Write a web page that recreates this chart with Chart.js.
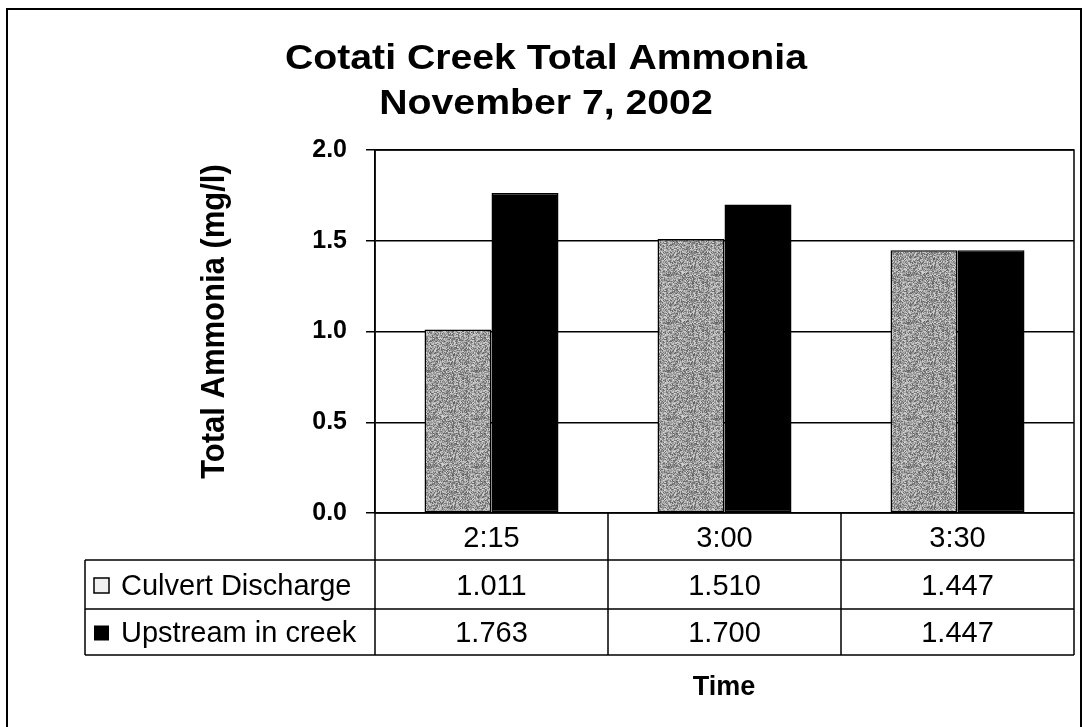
<!DOCTYPE html>
<html>
<head>
<meta charset="utf-8">
<script src="https://cdn.jsdelivr.net/npm/chart.js@4.4.1/dist/chart.umd.min.js"></script>
<style>
  html, body { margin: 0; padding: 0; background: #fff; }
  #wrap { width: 1085px; height: 727px; }
</style>
</head>
<body>
<div id="wrap"><canvas id="ammoniaChart" width="1085" height="727"></canvas></div>
<script>
// chart data
const times = ['2:15', '3:00', '3:30'];
const seriesNames = ['Culvert Discharge', 'Upstream in creek'];
const culvertValues = [1.011, 1.510, 1.447];
const upstreamValues = [1.763, 1.700, 1.447];
const yTicks = [0.0, 0.5, 1.0, 1.5, 2.0];

const titleLines = ['Cotati Creek Total Ammonia', 'November 7, 2002'];
const yTitle = 'Total Ammonia (mg/l)';
const xTitle = 'Time';

const FONT = "'Liberation Sans', Arial, sans-serif";

// speckled grey fill like the scanned bars (fixed hash, not data)
function speckle() {
  const c = document.createElement('canvas');
  c.width = 48; c.height = 48;
  const g = c.getContext('2d');
  const img = g.createImageData(48, 48);
  for (let y = 0; y < 48; y++) {
    for (let x = 0; x < 48; x++) {
      let h = (x * 374761393 + y * 668265263) | 0;
      h = Math.imul(h ^ (h >>> 13), 1274126177);
      h = (h ^ (h >>> 16)) >>> 0;
      const v = 95 + (h % 120);
      const i = (y * 48 + x) * 4;
      img.data[i] = v; img.data[i + 1] = v; img.data[i + 2] = v; img.data[i + 3] = 255;
    }
  }
  g.putImageData(img, 0, 0);
  return g.createPattern(c, 'repeat');
}

function stretchedText(ctx, text, x, y, font, align, sx) {
  ctx.save();
  ctx.font = font;
  ctx.fillStyle = '#000';
  ctx.textBaseline = 'alphabetic';
  ctx.textAlign = align || 'center';
  ctx.translate(x, y);
  ctx.scale(sx || 1, 1);
  ctx.fillText(text, 0, 0);
  ctx.restore();
}

// draws the frame, titles and the data table under the plot
const decorPlugin = {
  id: 'decor',
  beforeDraw(chart) {
    const ctx = chart.ctx;
    ctx.save();
    ctx.fillStyle = '#fff';
    ctx.fillRect(0, 0, chart.width, chart.height);
    ctx.restore();
  },
  afterDraw(chart) {
    const ctx = chart.ctx;
    const area = chart.chartArea;
    const x = chart.scales.x;

    ctx.save();
    ctx.strokeStyle = '#000';

    // outer frame
    ctx.lineWidth = 2;
    ctx.beginPath();
    ctx.moveTo(7, 727);
    ctx.lineTo(7, 9);
    ctx.lineTo(1081, 9);
    ctx.lineTo(1081, 727);
    ctx.stroke();

    // plot border
    ctx.lineWidth = 1.5;
    ctx.strokeRect(area.left, area.top, area.right - area.left, area.bottom - area.top);

    // data table
    const catW = (area.right - area.left) / times.length;
    const rowTop = area.bottom;
    const row1 = 560, row2 = 609, row3 = 655;
    const tableLeft = 85;

    ctx.lineWidth = 1.5;
    ctx.beginPath();
    ctx.moveTo(tableLeft, row1); ctx.lineTo(area.right, row1);
    ctx.moveTo(tableLeft, row2); ctx.lineTo(area.right, row2);
    ctx.moveTo(tableLeft, row3); ctx.lineTo(area.right, row3);
    ctx.moveTo(tableLeft, row1); ctx.lineTo(tableLeft, row3);
    for (let i = 0; i <= times.length; i++) {
      const px = area.left + catW * i;
      ctx.moveTo(px, rowTop); ctx.lineTo(px, row3);
    }
    ctx.stroke();

    const cellFont = '29px ' + FONT;
    times.forEach((t, i) => {
      const cx = x.getPixelForValue(i);
      stretchedText(ctx, t, cx, (rowTop + row1) / 2 + 10, cellFont);
      stretchedText(ctx, culvertValues[i].toFixed(3), cx, (row1 + row2) / 2 + 10, cellFont);
      stretchedText(ctx, upstreamValues[i].toFixed(3), cx, (row2 + row3) / 2 + 10, cellFont);
    });

    // row labels with legend keys
    const keySize = 15;
    const k1y = (row1 + row2) / 2 - keySize / 2 + 1;
    const k2y = (row2 + row3) / 2 - keySize / 2 + 1;
    ctx.lineWidth = 1.5;
    ctx.fillStyle = '#f0f0f0';
    ctx.fillRect(94, k1y, keySize, keySize);
    ctx.strokeRect(94, k1y, keySize, keySize);
    ctx.fillStyle = '#000';
    ctx.fillRect(94, k2y, keySize, keySize);
    stretchedText(ctx, seriesNames[0], 121, (row1 + row2) / 2 + 10, cellFont, 'left');
    stretchedText(ctx, seriesNames[1], 121, (row2 + row3) / 2 + 10, cellFont, 'left');

    // titles
    const titleFont = 'bold 35px ' + FONT;
    stretchedText(ctx, titleLines[0], 546, 69, titleFont, 'center', 1.12);
    stretchedText(ctx, titleLines[1], 546, 114, titleFont, 'center', 1.12);
    stretchedText(ctx, xTitle, 724, 695, 'bold 27px ' + FONT);

    // y axis title, rotated
    ctx.save();
    ctx.translate(224, (area.top + area.bottom) / 2 - 10);
    ctx.rotate(-Math.PI / 2);
    ctx.scale(1, 1.1);
    ctx.font = 'bold 31px ' + FONT;
    ctx.fillStyle = '#000';
    ctx.textAlign = 'center';
    ctx.textBaseline = 'alphabetic';
    ctx.fillText(yTitle, 0, 0);
    ctx.restore();

    ctx.restore();
  }
};

const ctx = document.getElementById('ammoniaChart').getContext('2d');

const ammoniaChart = new Chart(ctx, {
  type: 'bar',
  data: {
    labels: times,
    datasets: [{
      label: seriesNames[0],
      data: culvertValues,
      backgroundColor: speckle(),
      borderColor: '#000',
      borderWidth: 1.5,
      borderSkipped: false
    }, {
      label: seriesNames[1],
      data: upstreamValues,
      backgroundColor: '#000',
      borderColor: '#000',
      borderWidth: 1.5,
      borderSkipped: false
    }]
  },
  options: {
    responsive: false,
    animation: false,
    events: [],
    layout: {
      padding: { top: 150, right: 11, bottom: 214, left: 0 }
    },
    datasets: {
      bar: { categoryPercentage: 0.575, barPercentage: 1.0 }
    },
    plugins: {
      legend: { display: false },
      title: { display: false },
      tooltip: { enabled: false }
    },
    scales: {
      x: {
        display: false
      },
      y: {
        min: 0,
        max: 2,
        afterFit: (scale) => { scale.width = 375; },
        afterBuildTicks: (scale) => {
          scale.ticks = yTicks.map(v => ({ value: v }));
        },
        ticks: {
          color: '#000',
          padding: 19,
          font: { family: FONT, size: 25, weight: 'bold' },
          callback: (v) => Number(v).toFixed(1)
        },
        grid: {
          color: '#000',
          lineWidth: 1.5,
          tickLength: 9
        },
        border: { color: '#000', width: 1.5 }
      }
    }
  },
  plugins: [decorPlugin]
});
</script>
</body>
</html>
